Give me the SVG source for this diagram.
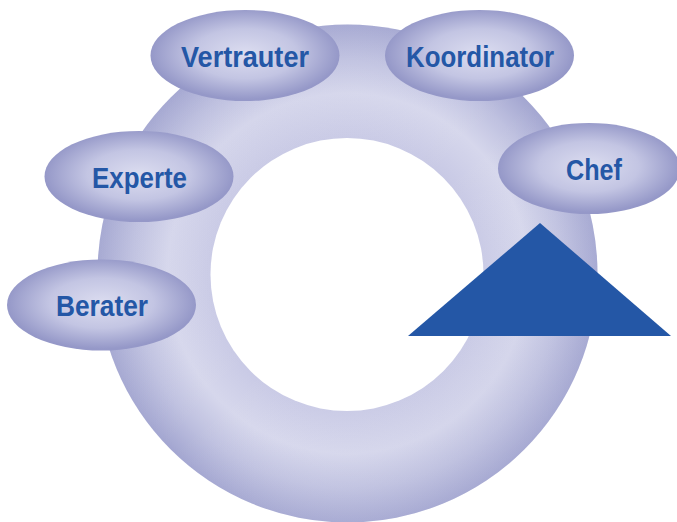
<svg xmlns="http://www.w3.org/2000/svg" width="677" height="522" viewBox="0 0 677 522">
<defs>
<radialGradient id="ringG" cx="347.5" cy="273.5" r="250" gradientUnits="userSpaceOnUse">
<stop offset="0.54" stop-color="#c8c9e5"/>
<stop offset="0.72" stop-color="#d6d7ec"/>
<stop offset="0.86" stop-color="#bfc1e0"/>
<stop offset="1" stop-color="#a2a5d0"/>
</radialGradient>
<linearGradient id="ringShade" x1="0" y1="0" x2="1" y2="1">
<stop offset="0" stop-color="#9a9dcb" stop-opacity="0.25"/>
<stop offset="0.5" stop-color="#ffffff" stop-opacity="0"/>
<stop offset="1" stop-color="#9a9dcb" stop-opacity="0.3"/>
</linearGradient>
<radialGradient id="nodeG" cx="0.5" cy="0.48" r="0.5">
<stop offset="0" stop-color="#dcddf0"/>
<stop offset="0.55" stop-color="#c3c5e3"/>
<stop offset="1" stop-color="#9598c8"/>
</radialGradient>
<mask id="hole">
<rect width="677" height="522" fill="#fff"/>
<ellipse cx="347" cy="274.5" rx="136.5" ry="136.5" fill="#000"/>
</mask>
</defs>
<style>
.node{fill:url(#nodeG);}
.lbl{font-family:"Liberation Sans",Arial,sans-serif;font-weight:bold;font-size:29px;fill:#2457a6;text-anchor:middle;}
</style>
<g id="ring" mask="url(#hole)">
<ellipse cx="347.5" cy="273.5" rx="250" ry="249" fill="url(#ringG)"/>
<ellipse cx="347.5" cy="273.5" rx="250" ry="249" fill="url(#ringShade)"/>
</g>
<g id="connectors">
<polygon id="arrow" points="408,336 540,223 671,336" fill="#2457a6"/>
</g>
<g id="node-vertrauter">
<ellipse class="node" cx="245" cy="55.5" rx="94.5" ry="45.5"/>
<text class="lbl" x="245" y="67" textLength="128" lengthAdjust="spacingAndGlyphs">Vertrauter</text>
</g>
<g id="node-koordinator">
<ellipse class="node" cx="479.5" cy="55.5" rx="94.5" ry="45.5"/>
<text class="lbl" x="480" y="67" textLength="148" lengthAdjust="spacingAndGlyphs">Koordinator</text>
</g>
<g id="node-experte">
<ellipse class="node" cx="139" cy="176.5" rx="94.5" ry="45.5"/>
<text class="lbl" x="139.5" y="188" textLength="95" lengthAdjust="spacingAndGlyphs">Experte</text>
</g>
<g id="node-chef">
<ellipse class="node" cx="589" cy="168.5" rx="91" ry="45.5"/>
<text class="lbl" x="594" y="180" textLength="56" lengthAdjust="spacingAndGlyphs">Chef</text>
</g>
<g id="node-berater">
<ellipse class="node" cx="101.5" cy="305" rx="94.5" ry="45.5"/>
<text class="lbl" x="102" y="316" textLength="92" lengthAdjust="spacingAndGlyphs">Berater</text>
</g>
</svg>
